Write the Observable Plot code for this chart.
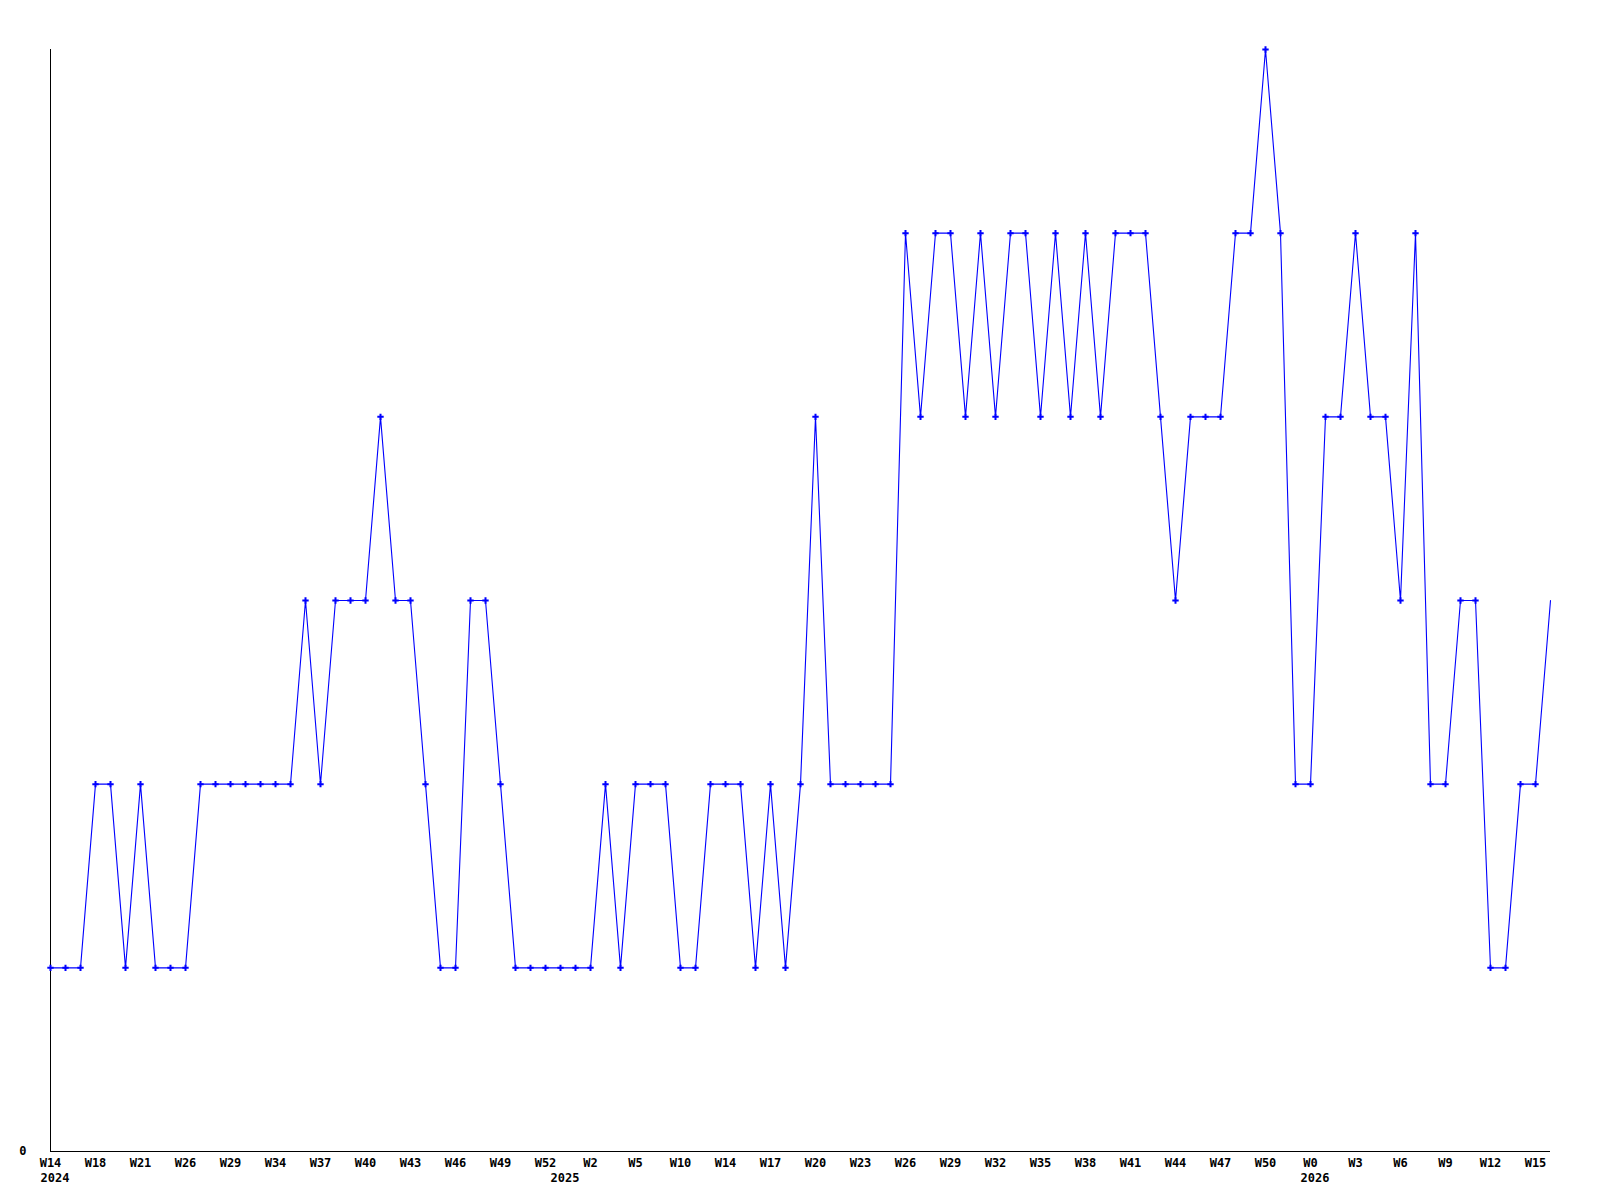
<!DOCTYPE html>
<html>
<head>
<meta charset="utf-8">
<script src="https://cdn.jsdelivr.net/npm/d3@7"></script>
<script src="https://cdn.jsdelivr.net/npm/@observablehq/plot@0.6"></script>
<style>
  html, body { margin: 0; padding: 0; background: #fff; }
</style>
</head>
<body>
<div id="chart"></div>
<script>
// Weekly values (index = week position)
const values = [
  1,1,1,2,2,1,2,1,1,1,
  2,2,2,2,2,2,2,3,2,3,
  3,3,4,3,3,2,1,1,3,3,
  2,1,1,1,1,1,1,2,1,2,
  2,2,1,1,2,2,2,1,2,1,
  2,4,2,2,2,2,2,5,4,5,
  5,4,5,4,5,5,4,5,4,5,
  4,5,5,5,4,3,4,4,4,5,
  5,6,5,2,2,4,4,5,4,4,
  3,5,2,2,3,3,1,1,2,2,
  3
];

// Tick labels, one every 3 weeks
const weekLabels = ["W14","W18","W21","W26","W29","W34","W37","W40","W43","W46","W49","W52",
  "W2","W5","W10","W14","W17","W20","W23","W26","W29","W32","W35","W38","W41","W44","W47","W50",
  "W0","W3","W6","W9","W12","W15"];
const tickStep = 3;

// Year labels and the week index where each year begins
const yearLabels = ["2024","2025","2026"];
const yearStart = [0, 34, 84];

const data = values.map((v, i) => ({i, v}));
const ticks = weekLabels.map((_, k) => k * tickStep);
const years = yearLabels.map((y, k) => ({y, i: yearStart[k]}));

const chart = Plot.plot({
  width: 1600,
  height: 1200,
  marginLeft: 50,
  marginRight: 50,
  marginTop: 49,
  marginBottom: 49,
  style: {fontFamily: "'DejaVu Sans Mono', monospace", fontSize: "12px", fontWeight: "bold", background: "#fff", color: "#000"},
  x: {domain: [0, values.length - 1]},
  y: {domain: [0, 6]},
  marks: [
    Plot.axisX({ticks, tickSize: 0, tickPadding: 7, tickFormat: d => weekLabels[d / tickStep], label: null}),
    Plot.axisY({ticks: [0], tickSize: 0, tickPadding: 24, tickFormat: d => String(d), label: null}),
    Plot.ruleX([0], {stroke: "#000", strokeWidth: 1}),
    Plot.ruleY([0], {stroke: "#000", strokeWidth: 1}),
    Plot.text(years, {x: "i", y: () => 0, text: "y", textAnchor: "start", dx: -10, dy: 22, lineAnchor: "top", fill: "#000"}),
    Plot.line(data, {x: "i", y: "v", stroke: "#0000ff", strokeWidth: 1.1}),
    Plot.dot(data, {x: "i", y: "v", symbol: "plus", r: 2.2, stroke: "#0000ff", strokeWidth: 2,
      filter: d => d.i < values.length - 1})
  ]
});
document.getElementById("chart").appendChild(chart);
</script>
</body>
</html>
